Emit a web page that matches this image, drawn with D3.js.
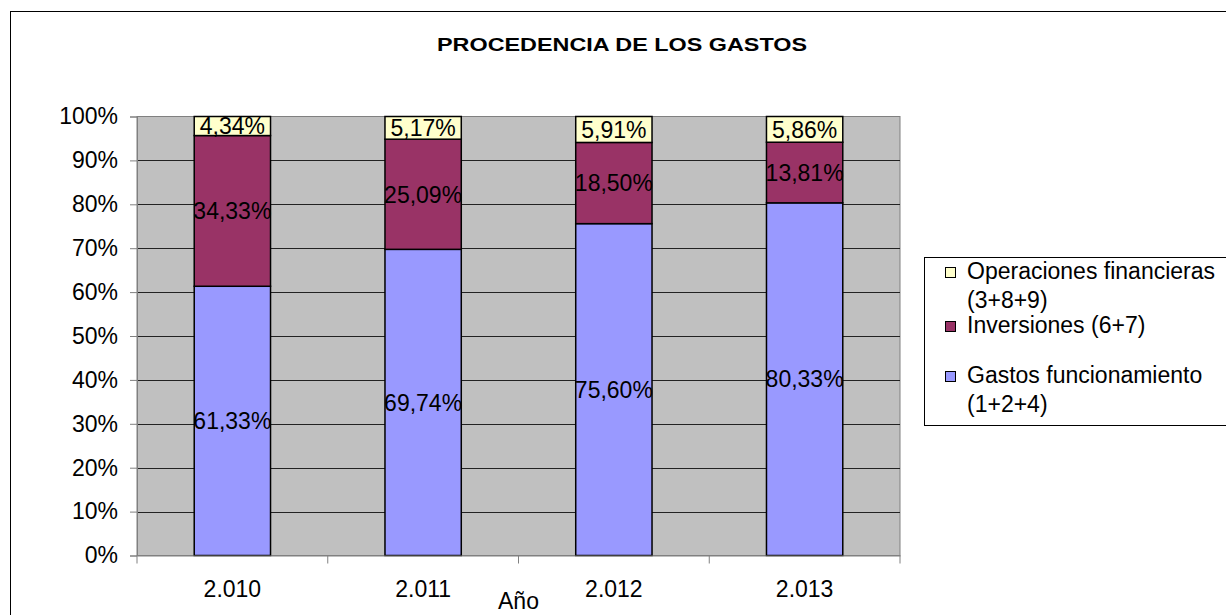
<!DOCTYPE html>
<html>
<head>
<meta charset="utf-8">
<script src="https://cdn.jsdelivr.net/npm/d3@7/dist/d3.min.js"></script>
<style>
  body { margin: 0; background: #fff; }
  svg { display: block; font-family: "Liberation Sans", Arial, sans-serif; }
</style>
</head>
<body>
<div id="container"></div>
<script>
// ---- data ----
const years = ["2.010", "2.011", "2.012", "2.013"];
const gastos = [61.33, 69.74, 75.60, 80.33];
const inversiones = [34.33, 25.09, 18.50, 13.81];
const operaciones = [4.34, 5.17, 5.91, 5.86];
const yTicks = [0, 10, 20, 30, 40, 50, 60, 70, 80, 90, 100];

const seriesKeys = ["gastos", "inversiones", "operaciones"];
const seriesColors = { gastos: "#9999FF", inversiones: "#993366", operaciones: "#FFFFCC" };
const legendItems = [
  { key: "operaciones", lines: ["Operaciones financieras", "(3+8+9)"] },
  { key: "inversiones", lines: ["Inversiones (6+7)"] },
  { key: "gastos", lines: ["Gastos funcionamiento", "(1+2+4)"] }
];

const rows = years.map((y, i) => {
  const tot = gastos[i] + inversiones[i] + operaciones[i];
  return {
    year: y,
    gastos: gastos[i] / tot * 100,
    inversiones: inversiones[i] / tot * 100,
    operaciones: operaciones[i] / tot * 100,
    raw: { gastos: gastos[i], inversiones: inversiones[i], operaciones: operaciones[i] }
  };
});

const W = 1226, H = 615;
const plot = { left: 137, right: 900, top: 116.5, bottom: 555.5 };
const FS = 23;

const svg = d3.select("#container").append("svg")
  .attr("width", W)
  .attr("height", H);

// chart frame
svg.append("rect")
  .attr("x", 10.5).attr("y", 11.5)
  .attr("width", 1240).attr("height", 640)
  .attr("fill", "#fff")
  .attr("stroke", "#000");

// title (stretched wide like the original)
svg.append("text")
  .attr("x", 437).attr("y", 51)
  .attr("font-weight", "bold")
  .attr("font-size", 19)
  .attr("textLength", 370)
  .attr("lengthAdjust", "spacingAndGlyphs")
  .text("PROCEDENCIA DE LOS GASTOS");

const x = d3.scaleBand()
  .domain(years)
  .range([plot.left, plot.right])
  .paddingInner(0.6)
  .paddingOuter(0.3);

const y = d3.scaleLinear()
  .domain([0, 100])
  .range([plot.bottom, plot.top]);

// plot background
svg.append("rect")
  .attr("x", plot.left).attr("y", plot.top)
  .attr("width", plot.right - plot.left)
  .attr("height", plot.bottom - plot.top)
  .attr("fill", "#C0C0C0")
  .attr("stroke", "#808080");

// gridlines
svg.append("g")
  .selectAll("line")
  .data(yTicks.filter(d => d > 0 && d < 100))
  .join("line")
  .attr("x1", plot.left).attr("x2", plot.right)
  .attr("y1", d => Math.round(y(d)) + 0.5)
  .attr("y2", d => Math.round(y(d)) + 0.5)
  .attr("stroke", "#222")
  .attr("stroke-width", 1);

// stacked bars
const stacked = d3.stack().keys(seriesKeys)(rows);

const layer = svg.append("g")
  .selectAll("g")
  .data(stacked)
  .join("g")
  .attr("fill", d => seriesColors[d.key]);

layer.selectAll("rect")
  .data(d => d)
  .join("rect")
  .attr("x", d => x(d.data.year))
  .attr("y", d => y(d[1]))
  .attr("width", x.bandwidth())
  .attr("height", d => y(d[0]) - y(d[1]))
  .attr("stroke", "#000")
  .attr("stroke-width", 1.5);

// data labels
const fmt = v => v.toFixed(2).replace(".", ",") + "%";
stacked.forEach(s => {
  svg.append("g")
    .selectAll("text")
    .data(s)
    .join("text")
    .attr("x", d => x(d.data.year) + x.bandwidth() / 2)
    .attr("y", d => y((d[0] + d[1]) / 2))
    .attr("dy", "0.36em")
    .attr("text-anchor", "middle")
    .attr("font-size", FS)
    .attr("fill", "#000")
    .text(d => fmt(d.data.raw[s.key]));
});

// y axis
const yAxis = svg.append("g")
  .attr("transform", `translate(${plot.left},0)`)
  .call(d3.axisLeft(y).tickValues(yTicks).tickFormat(d => d + "%").tickSize(7).tickPadding(12));
yAxis.selectAll("text").attr("font-size", FS).attr("fill", "#000").attr("font-family", "Liberation Sans, Arial, sans-serif");
yAxis.selectAll("line,path").attr("stroke", "#808080");

// x axis: labels centred, ticks at category boundaries
const xAxis = svg.append("g")
  .attr("transform", `translate(0,${plot.bottom})`)
  .call(d3.axisBottom(x).tickSize(0).tickPadding(25));
xAxis.selectAll("text").attr("font-size", FS).attr("fill", "#000").attr("font-family", "Liberation Sans, Arial, sans-serif");
xAxis.select("path").attr("stroke", "#808080");

const step = x.step();
const bounds = d3.range(years.length + 1).map(i => plot.left + i * step);
xAxis.selectAll(".bound")
  .data(bounds)
  .join("line")
  .attr("class", "bound")
  .attr("x1", d => d).attr("x2", d => d)
  .attr("y1", 0).attr("y2", 8)
  .attr("stroke", "#808080");

svg.append("text")
  .attr("x", (plot.left + plot.right) / 2)
  .attr("y", 609)
  .attr("text-anchor", "middle")
  .attr("font-size", FS)
  .text("Año");

// legend
const legend = svg.append("g");
legend.append("rect")
  .attr("x", 924.5).attr("y", 257.5)
  .attr("width", 400).attr("height", 168)
  .attr("fill", "#fff")
  .attr("stroke", "#000");

const legendRows = [279, 333, 383];
legendItems.forEach((item, i) => {
  const by = legendRows[i];
  legend.append("rect")
    .attr("x", 945.5).attr("y", by - 11.5)
    .attr("width", 10).attr("height", 10)
    .attr("fill", seriesColors[item.key])
    .attr("stroke", "#000");
  item.lines.forEach((t, j) => {
    legend.append("text")
      .attr("x", 967)
      .attr("y", by + j * 29)
      .attr("font-size", FS)
      .text(t);
  });
});
</script>
</body>
</html>
